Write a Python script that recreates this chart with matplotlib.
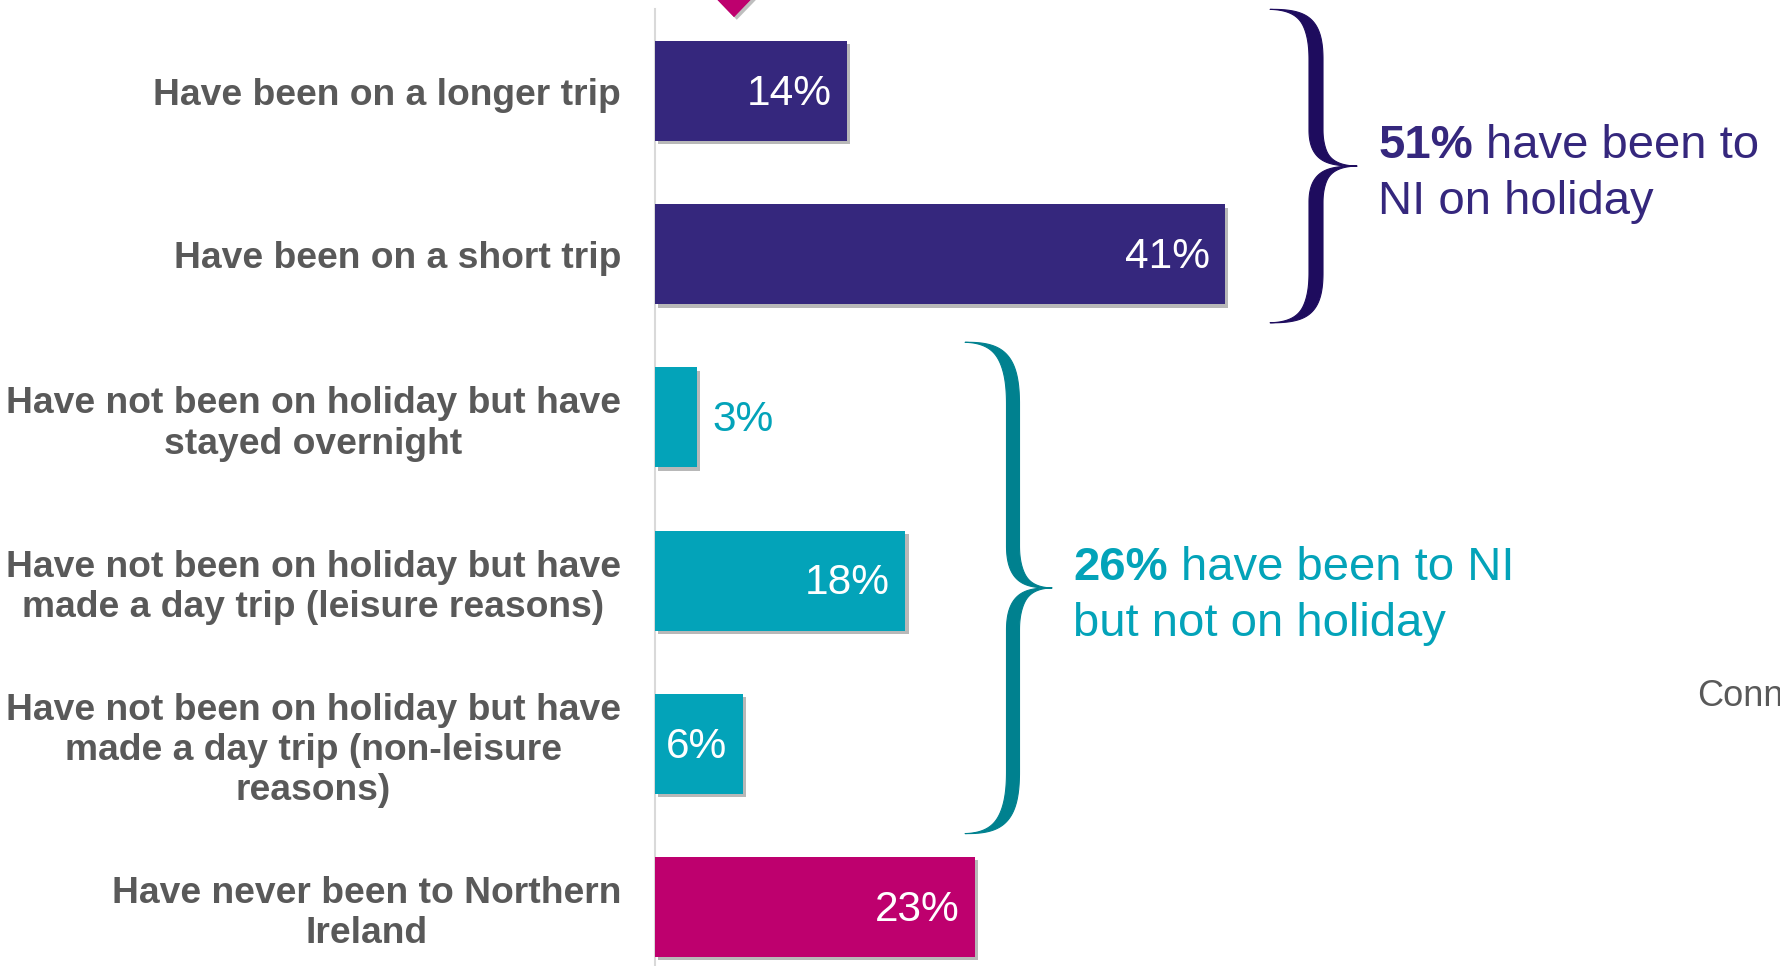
import matplotlib
matplotlib.use('Agg')
import matplotlib.pyplot as plt
import matplotlib.patheffects as pe
from matplotlib.patches import Polygon
import numpy as np

plt.rcParams['font.family'] = ['Liberation Sans', 'DejaVu Sans']

# data
categories = [
    'Have been on a longer trip',
    'Have been on a short trip',
    'Have not been on holiday but have\nstayed overnight',
    'Have not been on holiday but have\nmade a day trip (leisure reasons)',
    'Have not been on holiday but have\nmade a day trip (non-leisure\nreasons)',
    'Have never been to Northern\nIreland',
]
values = [13.8, 41, 3, 18, 6.3, 23]
value_labels = ['14%', '41%', '3%', '18%', '6%', '23%']
bar_colors = ['#35277D', '#35277D', '#03A3B9', '#03A3B9', '#03A3B9', '#BE006E']
label_inside = [True, True, False, True, True, True]

group_totals = ['51%', '26%']
group_line1 = ['have been to', 'have been to NI']
group_line2 = ['NI on holiday', 'but not on holiday']
group_text_colors = ['#35277D', '#03A3B9']
group_brace_colors = ['#1E0C5E', '#00818F']

grey = '#595959'

W, H = 1780, 966
fig = plt.figure(figsize=(W / 100, H / 100), dpi=100)

# main bar axes (pixel layout worked out from the picture)
ax_left, ax_top = 655, 9.4
step = 163.2
ax = fig.add_axes([ax_left / W, 1 - (ax_top + 6 * step) / H, 695 / W, 6 * step / H])
ypos = np.arange(len(values))
bars = ax.barh(ypos, values, height=0.613, color=bar_colors, zorder=3)
for b in bars:
    b.set_path_effects([pe.withSimplePatchShadow(offset=(2.5, -2.5), shadow_rgbFace='#7f7f7f', alpha=0.55),
                        pe.Normal()])
ax.set_xlim(0, 50)
ax.set_ylim(len(values) - 0.5, -0.5)
ax.set_xticks([])
ax.set_yticks(ypos)
ax.set_yticklabels(categories, fontsize=26.8, fontweight='bold', color=grey, linespacing=1.2)
for t in ax.get_yticklabels():
    t.set_multialignment('center')
ax.tick_params(axis='y', length=0, pad=24.5)
for s in ['top', 'right', 'bottom']:
    ax.spines[s].set_visible(False)
ax.spines['left'].set_color('#D9D9D9')
ax.spines['left'].set_linewidth(1.5)

for i, (v, lab, inside) in enumerate(zip(values, value_labels, label_inside)):
    if inside:
        ax.annotate(lab, xy=(v, i), xytext=(-11, -2), textcoords='offset points',
                    ha='right', va='center', fontsize=30.5, color='white', zorder=4)
    else:
        ax.annotate(lab, xy=(v, i), xytext=(11, -2), textcoords='offset points',
                    ha='left', va='center', fontsize=30.5, color=bar_colors[i], zorder=4)

# overlay in pixel coords for braces and notes
ov = fig.add_axes([0, 0, 1, 1], zorder=5)
ov.set_xlim(0, W)
ov.set_ylim(0, H)
ov.axis('off')


def bezier(p0, p1, p2, p3, n=80):
    t = np.linspace(0, 1, n)[:, None]
    return (1 - t) ** 3 * p0 + 3 * (1 - t) ** 2 * t * p1 + 3 * (1 - t) * t ** 2 * p2 + t ** 3 * p3


def brace_half(x_end, x_stem, x_tip, y_end, y_mid, r_end, r_tip):
    s = np.sign(y_mid - y_end)
    P = np.array
    a = bezier(P([x_end, y_end]), P([x_stem - 0.2 * (x_stem - x_end), y_end]),
               P([x_stem, y_end + s * r_end * 0.35]), P([x_stem, y_end + s * r_end]))
    b = np.linspace([x_stem, y_end + s * r_end], [x_stem, y_mid - s * r_tip], 40)
    c = bezier(P([x_stem, y_mid - s * r_tip]), P([x_stem, y_mid - s * r_tip * 0.25]),
               P([x_stem + 0.35 * (x_tip - x_stem), y_mid]), P([x_tip, y_mid]))
    return np.vstack([a, b[1:], c[1:]])


def draw_brace(x_end, x_stem, x_tip, y_top, y_bot, thick, color, r_end, r_tip):
    y_mid = (y_top + y_bot) / 2
    for y_end in (y_top, y_bot):
        pts = brace_half(x_end, x_stem, x_tip, y_end, y_mid, r_end, r_tip)
        d = np.gradient(pts, axis=0)
        d /= np.linalg.norm(d, axis=1)[:, None] + 1e-12
        nrm = np.column_stack([-d[:, 1], d[:, 0]])
        w = thick * np.abs(d[:, 1]) ** 1.3
        left = pts + nrm * w[:, None] / 2
        right = pts - nrm * w[:, None] / 2
        ov.add_patch(Polygon(np.vstack([left, right[::-1]]), closed=True,
                             facecolor=color, edgecolor=color, linewidth=0.8))
    return y_mid


# brace spans in bar units, x in pixels
brace_spans = [(-0.5, 1.42), (1.54, 4.55)]
brace_x = [(1270, 1316, 1357), (965, 1013, 1052)]
brace_thick = [14, 13]
brace_r = [(50, 36), (62, 42)]

rend = fig.canvas.get_renderer()
for g in range(2):
    y0 = ax.transData.transform((0, brace_spans[g][0]))[1]
    y1 = ax.transData.transform((0, brace_spans[g][1]))[1]
    xe, xs, xt = brace_x[g]
    ym = draw_brace(xe, xs, xt, y0, y1, brace_thick[g], group_brace_colors[g], *brace_r[g])
    tx = xt + 21
    t1 = ov.text(tx, ym + 8, group_totals[g], fontsize=34, fontweight='bold',
                 color=group_text_colors[g], va='baseline', ha='left')
    bw = t1.get_window_extent(rend).width
    ov.text(tx + bw + 13, ym + 8, group_line1[g], fontsize=34,
            color=group_text_colors[g], va='baseline', ha='left')
    ov.text(tx, ym - 48, group_line2[g], fontsize=34,
            color=group_text_colors[g], va='baseline', ha='left')

# pink marker at top, cut by the edge
tri = Polygon([[706, H + 12], [762, H + 12], [734, H - 17]], closed=True, facecolor='#BE006E',
              edgecolor='none')
tri.set_path_effects([pe.withSimplePatchShadow(offset=(2, -2), shadow_rgbFace='#7f7f7f', alpha=0.5),
                      pe.Normal()])
ov.add_patch(tri)

ov.text(1697, H - 697, 'Conn', fontsize=26, color=grey, va='center', ha='left')

fig.savefig('out.png', dpi=100)
